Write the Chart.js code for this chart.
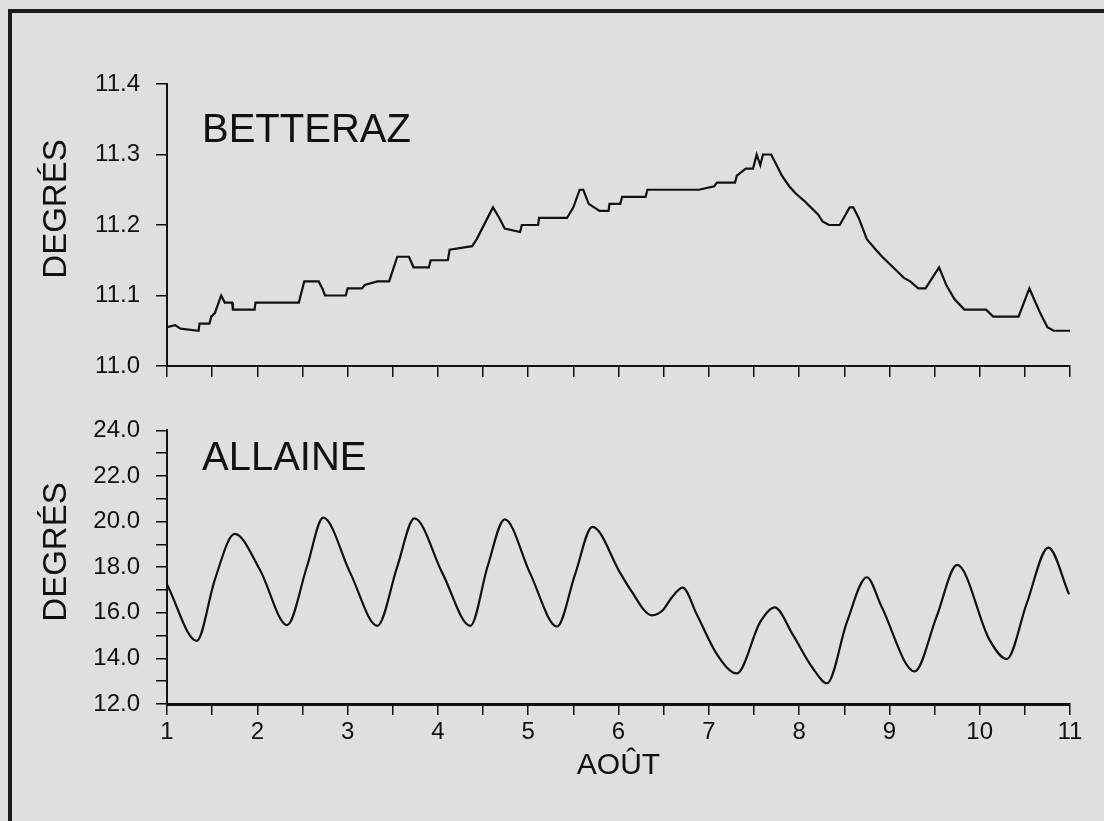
<!DOCTYPE html>
<html>
<head>
<meta charset="utf-8">
<script src="https://cdn.jsdelivr.net/npm/chart.js@4.4.1/dist/chart.umd.min.js"></script>
<style>
  html, body { margin: 0; padding: 0; }
  body { width: 1104px; height: 821px; overflow: hidden; background: #dde0dc; position: relative; font-family: 'Liberation Sans', Arial, sans-serif; color: #111; }
  #frame { position: absolute; left: 8px; top: 9px; width: 1200px; height: 900px; border-left: 4px solid #1b1b1b; border-top: 4px solid #1b1b1b; }
  .box { position: absolute; left: 0; width: 1104px; }
  #top-box { top: 0; height: 400px; }
  #bottom-box { top: 400px; height: 421px; }
  .name { position: absolute; left: 202px; font-size: 40px; line-height: 40px; }
  .ylab { position: absolute; left: -45px; width: 200px; height: 34px; line-height: 34px; font-size: 33px; text-align: center; transform: rotate(-90deg); }
</style>
</head>
<body>
<div id="frame"></div>
<div class="box" id="top-box"><canvas id="chart-betteraz"></canvas></div>
<div class="box" id="bottom-box"><canvas id="chart-allaine"></canvas></div>
<div class="name" style="top:108px">BETTERAZ</div>
<div class="name" style="top:436px">ALLAINE</div>
<div class="ylab" style="top:192px">DEGRÉS</div>
<div class="ylab" style="top:535px">DEGRÉS</div>
<script>
// days of August (decimal), temperatures in °C
const betterazDays = [1.00,1.09,1.15,1.35,1.36,1.47,1.49,1.53,1.60,1.64,
  1.72,1.73,1.97,1.98,2.46,2.52,2.68,2.72,2.75,2.98,
  3.00,3.16,3.19,3.33,3.46,3.55,3.68,3.73,3.90,3.92,
  4.11,4.13,4.38,4.43,4.61,4.68,4.74,4.91,4.93,5.11,
  5.12,5.43,5.50,5.57,5.61,5.67,5.79,5.89,5.90,6.02,
  6.04,6.30,6.32,6.89,7.06,7.09,7.29,7.31,7.41,7.49,
  7.53,7.57,7.60,7.69,7.73,7.81,7.89,7.96,8.05,8.13,
  8.21,8.26,8.33,8.45,8.56,8.60,8.66,8.75,8.85,8.92,
  9.00,9.08,9.16,9.23,9.32,9.40,9.55,9.63,9.72,9.83,
  10.07,10.15,10.43,10.55,10.67,10.75,10.82,11.00];
const betterazTemps = [11.055,11.058,11.053,11.05,11.06,11.06,11.07,11.075,11.10,11.09,
  11.09,11.08,11.08,11.09,11.09,11.12,11.12,11.11,11.10,11.10,
  11.11,11.11,11.115,11.12,11.12,11.155,11.155,11.14,11.14,11.15,
  11.15,11.165,11.17,11.18,11.225,11.21,11.195,11.19,11.20,11.20,
  11.21,11.21,11.225,11.25,11.25,11.23,11.22,11.22,11.23,11.23,
  11.24,11.24,11.25,11.25,11.255,11.26,11.26,11.27,11.28,11.28,
  11.30,11.285,11.30,11.30,11.29,11.27,11.255,11.245,11.235,11.225,
  11.215,11.205,11.20,11.20,11.225,11.225,11.21,11.18,11.165,11.155,
  11.145,11.135,11.125,11.12,11.11,11.11,11.14,11.115,11.095,11.08,
  11.08,11.07,11.07,11.11,11.075,11.055,11.05,11.05];

const allaineDays = [1.00,1.33,1.53,1.75,2.03,2.33,2.55,2.73,3.03,3.33,
  3.55,3.74,4.05,4.36,4.55,4.74,5.02,5.32,5.52,5.71,
  6.02,6.13,6.37,6.49,6.59,6.71,6.87,7.09,7.31,7.57,
  7.73,7.93,8.15,8.31,8.53,8.75,8.91,9.28,9.52,9.75,
  10.11,10.30,10.52,10.76,10.99];
const allaineTemps = [17.24,14.77,17.46,19.46,17.88,15.46,18.03,20.17,17.74,15.43,
  18.03,20.14,17.74,15.43,18.03,20.10,17.74,15.40,17.7,19.77,
  17.74,17.03,15.89,16.11,16.67,17.10,15.90,14.18,13.34,15.6,
  16.24,15.04,13.58,12.91,15.6,17.56,16.3,13.43,15.8,18.10,
  14.8,13.97,16.4,18.86,16.81];

const dayTicks = { min: 1, max: 11, step: 0.5 };
const betterazRange = { min: 11.0, max: 11.4, step: 0.1 };
const allaineRange = { min: 12, max: 24, step: 1 };

const ink = '#111';
const font = "'Liberation Sans', Arial, sans-serif";

function toPoints(xs, ys) {
  return xs.map((x, i) => ({ x: x, y: ys[i] }));
}

function axisGrid(w) {
  return { display: true, drawOnChartArea: false, drawTicks: true, tickLength: 11, color: ink, tickColor: ink, lineWidth: w, tickWidth: w };
}

function makeChart(id, xs, ys, range, opts) {
  return new Chart(document.getElementById(id), {
    type: 'line',
    data: {
      datasets: [{
        data: toPoints(xs, ys),
        borderColor: ink,
        borderWidth: 2.2,
        pointRadius: 0,
        fill: false,
        tension: opts.smooth ? 0.4 : 0,
        cubicInterpolationMode: opts.smooth ? 'monotone' : 'default'
      }]
    },
    options: {
      responsive: true, maintainAspectRatio: false, animation: false,
      layout: { padding: opts.padding },
      plugins: { legend: { display: false }, tooltip: { enabled: false } },
      scales: {
        x: {
          type: 'linear', min: dayTicks.min, max: dayTicks.max,
          grid: axisGrid(1.5),
          border: { display: true, color: ink, width: opts.xBorder },
          ticks: {
            display: opts.xLabels, stepSize: dayTicks.step, padding: 3, maxRotation: 0, autoSkip: false,
            color: ink, font: { family: font, size: 24 },
            callback: v => Number.isInteger(v) ? String(v) : ''
          },
          title: {
            display: opts.xLabels, text: 'AOÛT', color: ink,
            font: { family: font, size: 30 }, padding: { top: 0, bottom: 10 }
          },
          afterFit: s => { s.height = opts.xHeight; }
        },
        y: {
          min: range.min, max: range.max,
          grid: axisGrid(1.5),
          border: { display: true, color: ink, width: 2 },
          ticks: {
            stepSize: range.step, padding: 16, autoSkip: false,
            color: ink, font: { family: font, size: 24 },
            callback: opts.yLabel
          },
          afterFit: s => { s.width = 167; }
        }
      }
    }
  });
}

makeChart('chart-betteraz', betterazDays, betterazTemps, betterazRange, {
  smooth: false, xLabels: false, xBorder: 2, xHeight: 34,
  padding: { top: 84, right: 34, bottom: 0, left: 0 },
  yLabel: v => v.toFixed(1)
});

makeChart('chart-allaine', allaineDays, allaineTemps, allaineRange, {
  smooth: true, xLabels: true, xBorder: 3, xHeight: 90,
  padding: { top: 24, right: 34, bottom: 27, left: 0 },
  yLabel: v => (Math.round(v) % 2 === 0 ? v.toFixed(1) : '')
});
</script>
</body>
</html>
